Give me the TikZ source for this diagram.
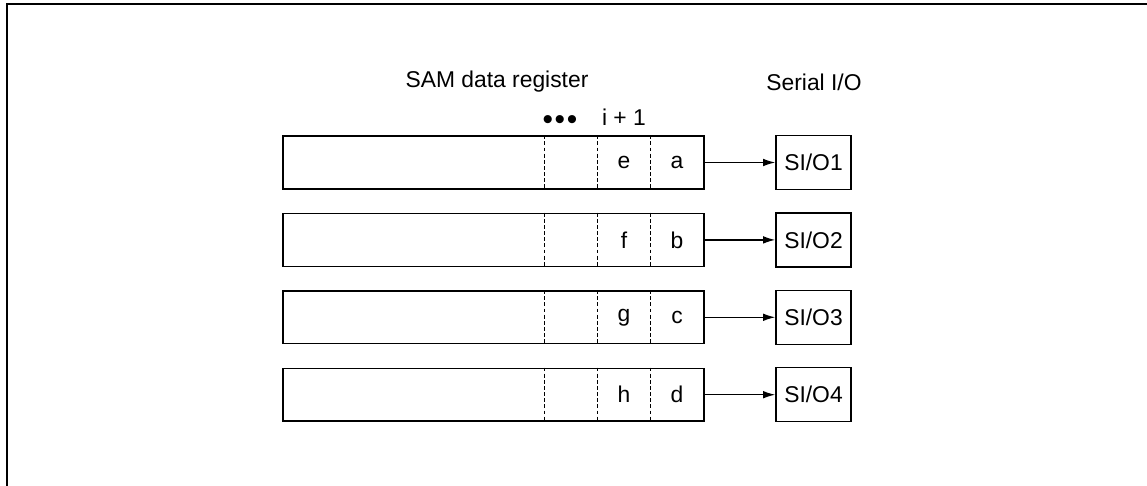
\documentclass[tikz,border=0pt]{standalone}
\usepackage{fontspec}
\setmainfont{Liberation Sans}
\usetikzlibrary{arrows.meta, positioning}

\tikzset{
    regbox/.style={draw, line width=0.8pt, minimum width=8.42cm, minimum height=1.06cm, inner sep=0pt},
    siobox/.style={draw, line width=0.8pt, minimum width=1.5cm, minimum height=1.08cm, inner sep=0pt},
    celldiv/.style={line width=0.5pt, dash pattern=on 2.2pt off 1.3pt},
    lbl/.style={font=\fontsize{13}{15}\selectfont, inner sep=0pt}
}

\begin{document}
\begin{tikzpicture}[x=0.02cm, y=-0.02cm, >={Latex[length=7pt, width=4.4pt]}]
    \useasboundingbox (0,0) rectangle (1147,486);

    % Frame
    \draw[line width=0.8pt] (1147,4) -- (7,4) -- (7,486);

    % Headings
    \node[lbl] (samhead) at (497,82) {SAM data register};
    \node[lbl] (siohead) at (814,82) {Serial I/O};
    \node[lbl] (bithead) at (624,117) {i + 1};
    \node[lbl, font=\fontsize{17}{19}\selectfont] (dots) at (560,123)
        {\textbullet\hspace{0.9pt}\textbullet\hspace{0.9pt}\textbullet};

    % Register rows and serial outputs
    \foreach \i/\inner/\outer in {1/e/a, 2/f/b, 3/g/c, 4/h/d} {
        \pgfmathsetmacro{\yc}{162.5 + 77.4*(\i-1)}
        \node[regbox] (reg\i) at (493.5,\yc) {};
        \node[siobox] (sio\i) at (813.5,\yc) {};
        \node[lbl] at (sio\i) {SI/O\i};
        % dashed cell borders
        \foreach \xd in {544, 597.7, 650.7}
            \draw[celldiv] (reg\i.north -| \xd,0) -- (reg\i.south -| \xd,0);
        \node[lbl] (bit\i) at (624,\yc) {\inner};
        \node[lbl] (lsb\i) at (677,\yc) {\outer};
        \draw[line width=0.8pt, ->] (reg\i.east) -- (sio\i.west);
    }
\end{tikzpicture}
\end{document}
